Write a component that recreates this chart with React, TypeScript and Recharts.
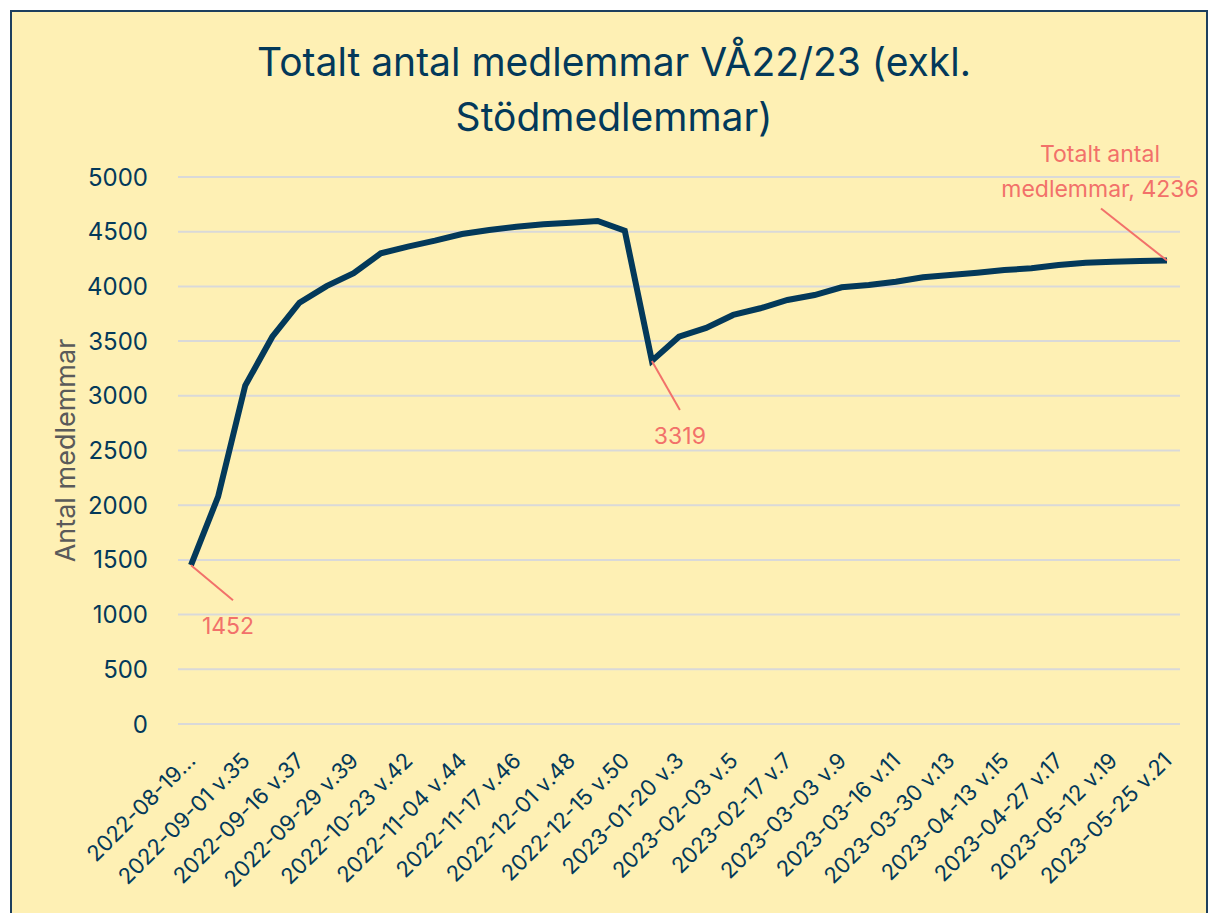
import { LineChart, Line, XAxis, YAxis, CartesianGrid } from 'recharts';

// weekly totals, 37 reporting dates (only every other one is labelled on the axis)
const members = [
  1452, 2078, 3093, 3540, 3851, 4003, 4120, 4302, 4363, 4418, 4479, 4516, 4546,
  4568, 4582, 4598, 4509, 3319, 3540, 3620, 3739, 3800, 3876, 3921, 3992, 4013,
  4043, 4083, 4104, 4125, 4150, 4165, 4196, 4217, 4226, 4232, 4236,
];

const xLabels = [
  '2022-08-19...', '2022-09-01 v.35', '2022-09-16 v.37', '2022-09-29 v.39',
  '2022-10-23  v.42', '2022-11-04 v.44', '2022-11-17 v.46', '2022-12-01 v.48',
  '2022-12-15 v.50', '2023-01-20 v.3', '2023-02-03 v.5', '2023-02-17 v.7',
  '2023-03-03 v.9', '2023-03-16 v.11', '2023-03-30 v.13', '2023-04-13 v.15',
  '2023-04-27 v.17', '2023-05-12 v.19', '2023-05-25 v.21',
];

const yTicks = [0, 500, 1000, 1500, 2000, 2500, 3000, 3500, 4000, 4500, 5000];

const NAVY = '#03395a';
const SALMON = '#f2716a';
const FONT = 'Inter, "Noto Sans", sans-serif';

const data = members.map((v, i) => ({ i, total: v }));

function XTick(props: any) {
  const { x, y, payload } = props;
  const label = xLabels[payload.value / 2];
  if (label === undefined) return null;
  return (
    <text
      x={x + 6}
      y={y + 30}
      transform={`rotate(-45, ${x + 6}, ${y + 30})`}
      textAnchor="end"
      fill={NAVY}
      fontSize={22}
      fontFamily={FONT}
    >
      {label}
    </text>
  );
}

function YTitle(props: any) {
  const { viewBox } = props;
  const cx = viewBox.x - 33;
  const cy = viewBox.y + viewBox.height / 2;
  return (
    <text
      x={cx}
      y={cy}
      transform={`rotate(-90, ${cx}, ${cy})`}
      textAnchor="middle"
      dominantBaseline="central"
      fill="#5a5a5a"
      fontSize={27}
      fontFamily={FONT}
    >
      Antal medlemmar
    </text>
  );
}

function PointLabel(props: any) {
  const { x, y, index } = props;
  const txt = { fill: SALMON, fontSize: 23, fontFamily: FONT, textAnchor: 'middle' as const };
  if (index === 0) {
    return (
      <g>
        <line x1={x} y1={y} x2={x + 42} y2={y + 35} stroke={SALMON} strokeWidth={2} />
        <text x={x + 37} y={y + 69} {...txt}>1452</text>
      </g>
    );
  }
  if (index === 17) {
    return (
      <g>
        <line x1={x} y1={y} x2={x + 28} y2={y + 49} stroke={SALMON} strokeWidth={2} />
        <text x={x + 28} y={y + 83} {...txt}>3319</text>
      </g>
    );
  }
  if (index === members.length - 1) {
    return (
      <g>
        <line x1={x} y1={y} x2={x - 66} y2={y - 52} stroke={SALMON} strokeWidth={2} />
        <text x={x - 67} y={y - 99} {...txt}>Totalt antal</text>
        <text x={x - 67} y={y - 64} {...txt}>medlemmar, 4236</text>
      </g>
    );
  }
  return null;
}

export default function App() {
  return (
    <div
      style={{
        position: 'absolute',
        left: 10,
        top: 10,
        width: 1198,
        height: 910,
        boxSizing: 'border-box',
        border: '2px solid #1d3f5e',
        background: '#fef0b4',
        overflow: 'hidden',
      }}
    >
      <div
        style={{
          position: 'absolute',
          left: 10,
          right: 0,
          top: 22,
          textAlign: 'center',
          color: NAVY,
          fontFamily: FONT,
          fontSize: 39,
          lineHeight: '55px',
        }}
      >
        Totalt antal medlemmar VÅ22/23 (exkl.
        <br />
        Stödmedlemmar)
      </div>
      <LineChart
        width={1196}
        height={900}
        data={data}
        margin={{ top: 167, right: 26, left: 88, bottom: 156 }}
        style={{ position: 'absolute', left: -2, top: -2, overflow: 'visible' }}
      >
        <CartesianGrid vertical={false} stroke="#d9d9d9" strokeWidth={2} />
        <XAxis
          dataKey="i"
          type="category"
          interval={1}
          axisLine={false}
          tickLine={false}
          padding={{ left: 13, right: 13 }}
          tick={<XTick />}
        />
        <YAxis
          width={80}
          domain={[0, 5000]}
          ticks={yTicks}
          axisLine={false}
          tickLine={false}
          tickSize={0}
          tickMargin={30}
          tick={{ fill: NAVY, fontSize: 24, fontFamily: FONT }}
          label={<YTitle />}
        />
        <Line
          type="linear"
          dataKey="total"
          stroke={NAVY}
          strokeWidth={6}
          dot={false}
          activeDot={false}
          isAnimationActive={false}
          label={<PointLabel />}
        />
      </LineChart>
    </div>
  );
}
